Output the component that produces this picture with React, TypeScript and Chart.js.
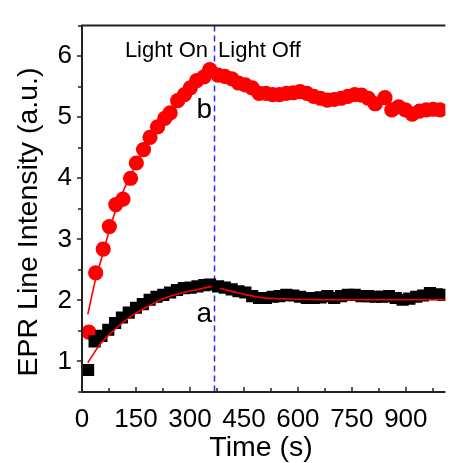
import React, { useEffect, useRef } from "react";
import { Chart, registerables } from "chart.js";

Chart.register(...registerables);

// ---- data (time in s, EPR line intensity in a.u.) ----
const lightOffTime = 367;

const bOnTimes = [19, 38, 59, 76, 94, 114, 135, 151, 171, 189, 210, 230, 245, 266, 285, 301, 319, 339, 355];
const bOnValues = [1.48, 2.45, 2.84, 3.21, 3.57, 3.66, 4.0, 4.25, 4.47, 4.67, 4.84, 4.98, 5.07, 5.27, 5.37, 5.48, 5.6, 5.66, 5.78];

const bOffTimes = [378, 397, 416, 435, 454, 473, 492, 511, 530, 549, 568, 587, 606, 625, 644, 663, 682, 701, 720, 739, 758, 777, 796, 815, 842, 861, 880, 899, 918, 938, 957, 976, 995];
const bOffValues = [5.69, 5.67, 5.63, 5.56, 5.53, 5.48, 5.39, 5.39, 5.37, 5.37, 5.39, 5.4, 5.42, 5.39, 5.34, 5.31, 5.28, 5.29, 5.31, 5.34, 5.37, 5.36, 5.31, 5.22, 5.32, 5.12, 5.17, 5.12, 5.05, 5.1, 5.12, 5.13, 5.12];

const aOnTimes = [17, 35, 54, 73, 92, 111, 130, 150, 169, 188, 207, 226, 245, 264, 283, 302, 321, 340, 356];
const aOnValues = [0.86, 1.33, 1.42, 1.52, 1.63, 1.72, 1.8, 1.88, 1.94, 2.01, 2.06, 2.09, 2.13, 2.17, 2.2, 2.21, 2.23, 2.25, 2.26];

const aOffTimes = [378, 397, 416, 435, 454, 473, 492, 511, 530, 549, 568, 587, 606, 625, 644, 663, 682, 701, 720, 739, 758, 777, 796, 815, 834, 853, 872, 891, 910, 929, 948, 967, 986, 1005];
const aOffValues = [2.23, 2.21, 2.18, 2.15, 2.13, 2.07, 2.04, 2.04, 2.06, 2.07, 2.09, 2.08, 2.06, 2.04, 2.04, 2.05, 2.07, 2.04, 2.07, 2.09, 2.09, 2.07, 2.07, 2.06, 2.06, 2.07, 2.04, 2.01, 2.03, 2.06, 2.08, 2.12, 2.1, 2.09];

const fitBOnTimes = [16, 38, 60, 76, 95, 114, 133, 152, 171, 190, 209, 228, 247, 266, 285, 304, 323, 342, 361];
const fitBOnValues = [1.77, 2.35, 2.8, 3.15, 3.5, 3.78, 4.02, 4.25, 4.45, 4.63, 4.8, 4.95, 5.08, 5.2, 5.32, 5.43, 5.53, 5.63, 5.72];

const fitAOnTimes = [16, 49, 94, 139, 185, 230, 275, 321, 361];
const fitAOnValues = [0.98, 1.27, 1.54, 1.75, 1.91, 2.04, 2.12, 2.18, 2.23];

const fitAOffTimes = [383, 408, 429, 457, 484, 511, 538, 592, 728, 1010];
const fitAOffValues = [2.2, 2.16, 2.13, 2.09, 2.06, 2.04, 2.03, 2.02, 2.01, 2.01];

const xTickValues = [0, 150, 300, 450, 600, 750, 900];
const xMinorValues = [75, 225, 375, 525, 675, 825, 975];
const yTickValues = [1, 2, 3, 4, 5, 6];
const yMinorValues = [0.5, 1.5, 2.5, 3.5, 4.5, 5.5, 6.5];

const xMin = 0;
const xMax = 1010;
const yMin = 0.5;
const yMax = 6.5;

const FONT = "'Liberation Sans', Arial, sans-serif";

const pts = (xs: number[], ys: number[]) => xs.map((x, i) => ({ x, y: ys[i] }));

const decoPlugin = {
  id: "deco",
  beforeDatasetsDraw(chart: any) {
    const { ctx, chartArea, scales } = chart;
    const x = Math.round(scales.x.getPixelForValue(lightOffTime)) + 0.5;
    ctx.save();
    ctx.strokeStyle = "#2b2bf0";
    ctx.lineWidth = 1.5;
    ctx.setLineDash([6, 4]);
    ctx.beginPath();
    ctx.moveTo(x, chartArea.top);
    ctx.lineTo(x, chartArea.bottom);
    ctx.stroke();
    ctx.restore();
  },
  afterDraw(chart: any) {
    const { ctx, chartArea, scales } = chart;
    const xs = scales.x;
    const ys = scales.y;
    const L = chartArea.left;
    const R = chartArea.right;
    const T = chartArea.top;
    const B = chartArea.bottom;
    ctx.save();
    ctx.strokeStyle = "#222";
    ctx.lineWidth = 2;
    ctx.setLineDash([]);
    ctx.beginPath();
    ctx.moveTo(L, T);
    ctx.lineTo(L, B + 1);
    ctx.moveTo(L - 1, B);
    ctx.lineTo(R, B);
    ctx.moveTo(L - 1, T);
    ctx.lineTo(R, T);
    ctx.stroke();

    ctx.lineWidth = 1.5;
    ctx.beginPath();
    for (const v of yTickValues) {
      const y = Math.round(ys.getPixelForValue(v));
      ctx.moveTo(L, y);
      ctx.lineTo(L - 5, y);
    }
    for (const v of yMinorValues) {
      const y = Math.round(ys.getPixelForValue(v));
      ctx.moveTo(L, y);
      ctx.lineTo(L - 4, y);
    }
    for (const v of xTickValues) {
      const x = Math.round(xs.getPixelForValue(v));
      ctx.moveTo(x, B);
      ctx.lineTo(x, B - 5);
    }
    for (const v of xMinorValues) {
      const x = Math.round(xs.getPixelForValue(v));
      ctx.moveTo(x, B);
      ctx.lineTo(x, B - 4);
    }
    ctx.stroke();

    const xOff = xs.getPixelForValue(lightOffTime);
    ctx.fillStyle = "#000";
    ctx.textBaseline = "alphabetic";
    ctx.font = `22px ${FONT}`;
    ctx.textAlign = "right";
    ctx.fillText("Light On", xOff - 6, T + 31);
    ctx.textAlign = "left";
    ctx.fillText("Light Off", xOff + 4, T + 31);

    ctx.font = `28px ${FONT}`;
    ctx.textAlign = "right";
    ctx.fillText("b", xOff - 2, ys.getPixelForValue(4.98));
    ctx.fillText("a", xOff - 2, ys.getPixelForValue(1.64));

    ctx.font = `28.5px ${FONT}`;
    ctx.textAlign = "center";
    ctx.fillText("Time (s)", 261, 456);
    ctx.save();
    ctx.translate(37, 222);
    ctx.rotate(-Math.PI / 2);
    ctx.fillText("EPR Line Intensity (a.u.)", 0, 0);
    ctx.restore();

    ctx.restore();
  },
};

export default function App() {
  const ref = useRef<HTMLCanvasElement>(null);
  useEffect(() => {
    const canvas = ref.current;
    if (!canvas) return;
    const square = {
      pointStyle: "rect",
      pointRadius: 8.6,
      backgroundColor: "#000",
      borderColor: "#000",
      borderWidth: 0,
      order: 1,
    };
    const circle = {
      pointStyle: "circle",
      pointRadius: 7.6,
      backgroundColor: "#ff0000",
      borderColor: "#ff0000",
      borderWidth: 0,
      order: 2,
    };
    const fit = {
      showLine: true,
      borderColor: "#ff0000",
      borderWidth: 1.6,
      pointRadius: 0,
      cubicInterpolationMode: "monotone",
    };
    const chart = new Chart(canvas, {
      type: "scatter",
      data: {
        datasets: [
          { label: "fit a on", data: pts(fitAOnTimes, fitAOnValues), ...fit, order: 0 },
          { label: "fit a off", data: pts(fitAOffTimes, fitAOffValues), ...fit, order: 0 },
          { label: "a on", data: pts(aOnTimes, aOnValues), ...square },
          { label: "a off", data: pts(aOffTimes, aOffValues), ...square },
          { label: "fit b on", data: pts(fitBOnTimes, fitBOnValues), ...fit, order: 3 },
          { label: "b on", data: pts(bOnTimes, bOnValues), ...circle },
          { label: "b off", data: pts(bOffTimes, bOffValues), ...circle },
        ],
      },
      options: {
        animation: false,
        responsive: false,
        maintainAspectRatio: false,
        devicePixelRatio: 1,
        layout: { padding: { top: 14, left: 0, right: 0, bottom: 0 } },
        plugins: { legend: { display: false }, tooltip: { enabled: false } },
        events: [],
        scales: {
          x: {
            type: "linear",
            min: xMin,
            max: xMax,
            grid: { display: false, drawTicks: false },
            border: { display: false },
            afterBuildTicks: (scale: any) => {
              scale.ticks = xTickValues.map((v) => ({ value: v }));
            },
            afterFit: (scale: any) => {
              scale.height = 71;
            },
            ticks: {
              autoSkip: false,
              maxRotation: 0,
              minRotation: 0,
              padding: 12,
              color: "#000",
              font: { family: FONT, size: 26 },
            },
          },
          y: {
            type: "linear",
            min: yMin,
            max: yMax,
            grid: { display: false, drawTicks: false },
            border: { display: false },
            afterBuildTicks: (scale: any) => {
              scale.ticks = yTickValues.map((v) => ({ value: v }));
            },
            afterFit: (scale: any) => {
              scale.width = 82;
            },
            ticks: {
              padding: 10,
              color: "#000",
              font: { family: FONT, size: 26 },
            },
          },
        },
      },
      plugins: [decoPlugin],
    } as any);
    return () => chart.destroy();
  }, []);
  return (
    <div style={{ position: "absolute", left: 0, top: 0, width: 454, height: 463, overflow: "hidden", background: "#fff" }}>
      <canvas ref={ref} width={454} height={463} style={{ display: "block" }} />
    </div>
  );
}
